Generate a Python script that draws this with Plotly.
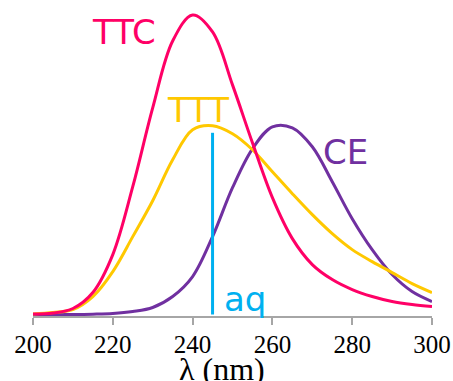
import plotly.graph_objects as go

wavelength = [200, 205, 210, 215, 220, 225, 230, 235, 240, 245, 250,
              255, 260, 265, 270, 275, 280, 285, 290, 295, 300]
ttc = [0.5, 1.5, 6, 22, 60, 128, 207, 274, 300, 283, 230,
       172, 117, 76, 50, 35, 25, 18, 13, 10, 8]
ttt = [0.5, 2, 5, 18, 43, 78, 114, 155, 185, 189, 181,
       165, 143, 121, 100, 81, 65, 53, 42, 31, 22]
ce = [0, 0, 0, 0.3, 1, 3, 7, 18, 38, 78, 127,
      166, 188, 187, 168, 133, 96, 65, 40, 23, 13]
aq_x = [245, 245]
aq_y = [0, 182]

tick_vals = [200, 220, 240, 260, 280, 300]
tick_text = ["200", "220", "240", "260", "280", "300"]

C_TTC = "#FF0066"
C_TTT = "#FFC800"
C_CE = "#7030A0"
C_AQ = "#00B0F0"

fig = go.Figure()
fig.add_trace(go.Scatter(x=wavelength, y=ce, mode="lines", line=dict(color=C_CE, width=3, shape="spline", smoothing=1.0), name="CE"))
fig.add_trace(go.Scatter(x=wavelength, y=ttt, mode="lines", line=dict(color=C_TTT, width=3, shape="spline", smoothing=1.0), name="TTT"))
fig.add_trace(go.Scatter(x=wavelength, y=ttc, mode="lines", line=dict(color=C_TTC, width=3, shape="spline", smoothing=1.0), name="TTC"))
fig.add_trace(go.Scatter(x=aq_x, y=aq_y, mode="lines", line=dict(color=C_AQ, width=3), name="aq"))

lab_font = "DejaVu Sans"
def label(txt, x, y, color):
    fig.add_annotation(x=x, y=y, xref="x", yref="y", text=txt, showarrow=False,
                       font=dict(family=lab_font, size=34, color=color),
                       xanchor="center", yanchor="middle")

label("TTC", 222.8, 283, C_TTC)
label("TTT", 241.3, 205, C_TTT)
label("CE", 278.2, 163, C_CE)
label("aq", 253.1, 16, C_AQ)

fig.add_annotation(x=247.3, y=-0.174, xref="x", yref="paper", text="λ (nm)", showarrow=False,
                   font=dict(family="Liberation Serif", size=32, color="black"),
                   xanchor="center", yanchor="middle")

fig.update_layout(
    width=453, height=381,
    margin=dict(l=33, r=21, t=13, b=65),
    paper_bgcolor="white", plot_bgcolor="white",
    showlegend=False,
    xaxis=dict(range=[200, 300], tickvals=tick_vals, ticktext=tick_text, automargin=False,
               showgrid=False, zeroline=False, showline=True, linecolor="#A6A6A6", linewidth=1.5,
               ticks="outside", ticklen=7, tickcolor="#A6A6A6", tickwidth=1.5,
               ticklabelstandoff=-2,
               tickfont=dict(family="Liberation Serif", size=25, color="black")),
    yaxis=dict(range=[-1.5, 302], visible=False, automargin=False),
)
fig.write_html("out.html", config={"displayModeBar": False},
               post_script="document.body.style.margin='0px';document.body.style.overflow='hidden';")
